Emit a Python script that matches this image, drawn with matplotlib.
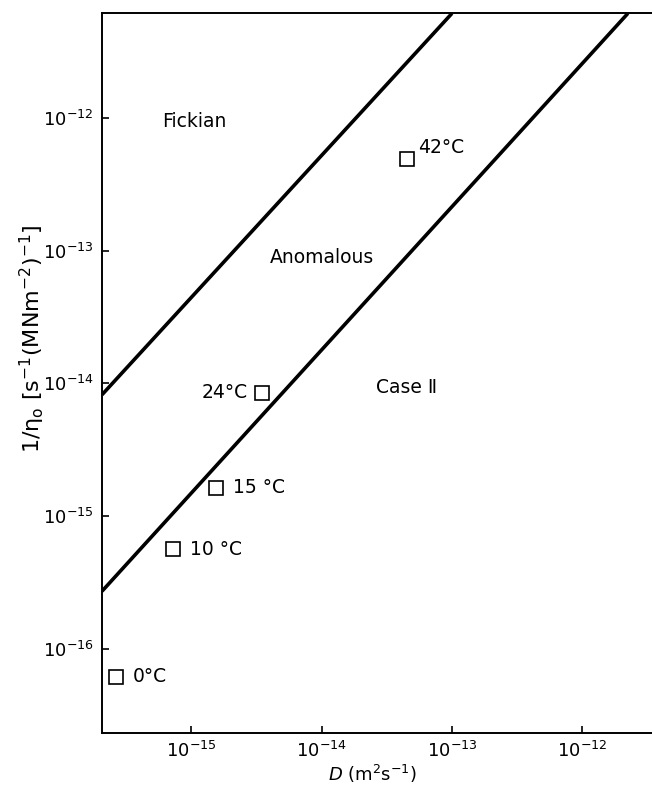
import matplotlib
matplotlib.use('Agg')
import matplotlib.pyplot as plt
from matplotlib.ticker import NullLocator

# diffusion coefficient D and inverse viscosity 1/eta_0 for each temperature
D_vals = [2.62e-16, 7.25e-16, 1.54e-15, 3.49e-15, 4.55e-14]
inv_eta = [6.18e-17, 5.65e-16, 1.63e-15, 8.48e-15, 4.89e-13]
temps = ['0°C', '10 °C', '15 °C', '24°C', '42°C']

# regime boundaries (endpoints)
fick_D = [2.06e-16, 1.0e-13]
fick_eta = [8.2e-15, 6.1e-12]
case2_D = [2.06e-16, 2.24e-12]
case2_eta = [2.72e-16, 6.1e-12]

# region names
region_names = ['Fickian', 'Anomalous', 'Case Ⅱ']
region_D = [5.94e-16, 1.0e-14, 2.61e-14]
region_eta = [9.3e-13, 8.85e-14, 9.25e-15]

x_ticks = [1e-15, 1e-14, 1e-13, 1e-12]
y_ticks = [1e-16, 1e-15, 1e-14, 1e-13, 1e-12]

plt.rcParams['font.family'] = ['DejaVu Sans']
plt.rcParams['mathtext.default'] = 'regular'

fig = plt.figure(figsize=(6.52, 7.88), dpi=100)
ax = fig.add_axes([0.1564, 0.0698, 0.8436, 0.9137])
ax.set_xscale('log')
ax.set_yscale('log')
ax.set_xlim(2.06e-16, 3.43e-12)
ax.set_ylim(2.33e-17, 6.14e-12)

ax.plot(fick_D, fick_eta, color='black', lw=2.6, solid_capstyle='butt')
ax.plot(case2_D, case2_eta, color='black', lw=2.6, solid_capstyle='butt')

ax.plot(D_vals, inv_eta, linestyle='none', marker='s', markersize=9.5,
        markerfacecolor='white', markeredgecolor='black', markeredgewidth=1.2)

# temperature labels next to each point
offsets = [(12.5, 0), (12, 0), (12.2, 0), (-10, 0), (8, 8.6)]
for d, e, t, off in zip(D_vals, inv_eta, temps, offsets):
    ax.annotate(t, (d, e), textcoords='offset points', xytext=off,
                ha='left' if off[0] > 0 else 'right', va='center',
                fontsize=13.5)

for name, d, e in zip(region_names, region_D, region_eta):
    ha = 'center' if name == 'Anomalous' else 'left'
    ax.text(d, e, name, ha=ha, va='center', fontsize=13.5)

ax.spines['right'].set_visible(False)
for s in ['left', 'bottom', 'top']:
    ax.spines[s].set_linewidth(1.4)

ax.set_xticks(x_ticks)
ax.set_yticks(y_ticks)
ax.xaxis.set_minor_locator(NullLocator())
ax.yaxis.set_minor_locator(NullLocator())
ax.tick_params(direction='in', length=5, width=1.2, labelsize=13, pad=6,
               top=False, right=False)

ax.set_xlabel(r'$\it{D}$ (m$^{2}$s$^{-1}$)', fontsize=13)
ax.xaxis.set_label_coords(0.491, -0.042)
ax.set_ylabel(r'1/$\eta_{o}$ [s$^{-1}$(MNm$^{-2}$)$^{-1}$]', fontsize=16)
ax.yaxis.set_label_coords(-0.1, 0.547)

fig.savefig('out.png', dpi=100)
